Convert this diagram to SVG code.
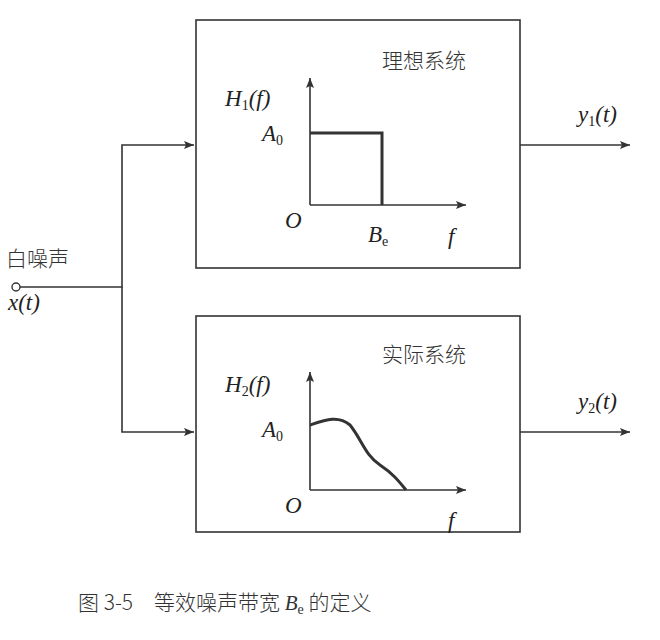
<svg xmlns="http://www.w3.org/2000/svg" width="660" height="640" viewBox="0 0 660 640">
<defs>
<marker id="a" viewBox="0 0 10 10" refX="10" refY="5" markerWidth="22" markerHeight="10" markerUnits="userSpaceOnUse" orient="auto"><path d="M0,1 L10,5 L0,9 L2,5 Z" fill="#333"/></marker>
<style>
.l{stroke:#333;stroke-width:1.6;fill:none}
.t{font-family:"Liberation Serif",serif;font-style:italic;font-size:23px;fill:#222}
.c{font-family:"Noto Sans CJK SC",sans-serif;font-size:21px;font-weight:300;fill:#333}
.s{font-size:14px;font-style:normal}
</style>
</defs>
<rect width="660" height="640" fill="#fff"/>
<g id="connectors">
<path class="l" d="M20,287 H122 V145 H194" marker-end="url(#a)"/>
<path class="l" d="M122,287 V432 H194" marker-end="url(#a)"/>
<path class="l" d="M520,145 H630" marker-end="url(#a)"/>
<path class="l" d="M520,432 H630" marker-end="url(#a)"/>
</g>
<g id="input">
<circle cx="16" cy="287" r="4" fill="#fff" stroke="#333" stroke-width="1.4"/>
<text class="c" x="6" y="266">白噪声</text>
<text class="t" x="8" y="310">x(t)</text>
</g>
<g id="ideal">
<rect class="l" x="196" y="20" width="324" height="248"/>
<text class="c" x="382" y="68">理想系统</text>
<path class="l" d="M310,205 V78" marker-end="url(#a)"/>
<path class="l" d="M310,205 H466" marker-end="url(#a)"/>
<path d="M310,133 H382 V205" stroke="#333" stroke-width="3" fill="none"/>
<text class="t" x="225" y="106">H<tspan class="s" dy="4">1</tspan><tspan dy="-4">(f)</tspan></text>
<text class="t" x="262" y="141">A<tspan class="s" dy="4">0</tspan></text>
<text class="t" x="285" y="228">O</text>
<text class="t" x="368" y="242">B<tspan class="s" dy="4">e</tspan></text>
<text class="t" x="448" y="244">f</text>
</g>
<g id="actual">
<rect class="l" x="196" y="316" width="324" height="216"/>
<text class="c" x="382" y="362">实际系统</text>
<path class="l" d="M310,490 V372" marker-end="url(#a)"/>
<path class="l" d="M310,490 H466" marker-end="url(#a)"/>
<path d="M310,425 C325,420 338,415 350,425 C362,440 365,455 380,465 C392,473 398,480 406,490" stroke="#333" stroke-width="3" fill="none"/>
<text class="t" x="225" y="392">H<tspan class="s" dy="4">2</tspan><tspan dy="-4">(f)</tspan></text>
<text class="t" x="262" y="437">A<tspan class="s" dy="4">0</tspan></text>
<text class="t" x="285" y="513">O</text>
<text class="t" x="448" y="528">f</text>
</g>
<g id="outputs">
<text class="t" x="578" y="122">y<tspan class="s" dy="4">1</tspan><tspan dy="-4">(t)</tspan></text>
<text class="t" x="578" y="409">y<tspan class="s" dy="4">2</tspan><tspan dy="-4">(t)</tspan></text>
</g>
<text class="c" x="78" y="610" font-size="22">图 3-5　等效噪声带宽 <tspan font-family="Liberation Serif,serif" font-style="italic">B</tspan><tspan font-family="Liberation Serif,serif" font-size="14" dy="4">e</tspan><tspan dy="-4"> 的定义</tspan></text>
</svg>
